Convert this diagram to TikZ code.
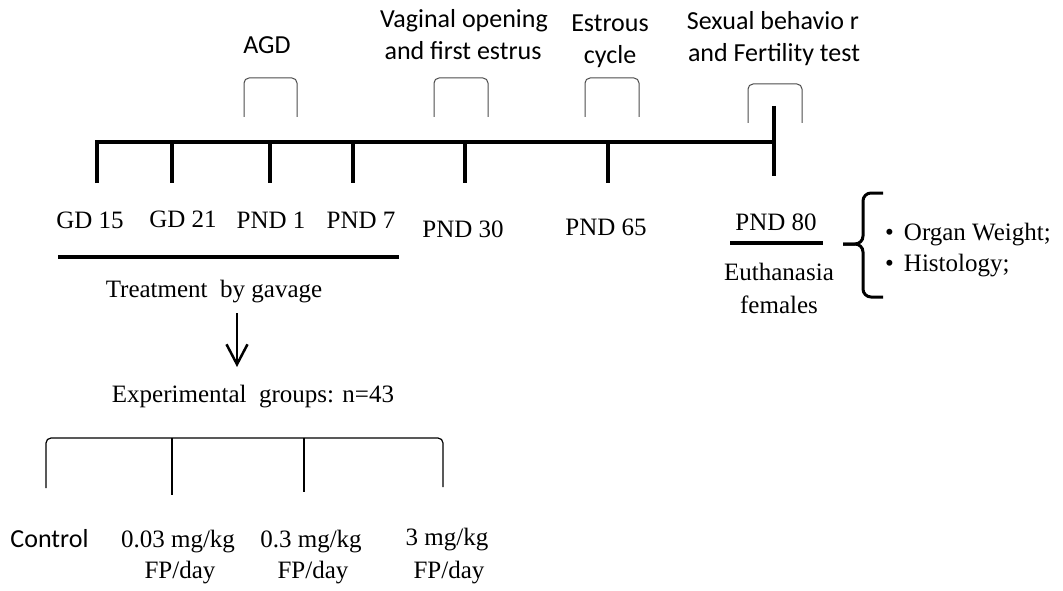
\documentclass[tikz,border=0pt]{standalone}
\usepackage{fontspec}
\setmainfont{Liberation Serif}
\newfontfamily\calibri{Carlito}
\usepackage{tikz}
\usetikzlibrary{arrows.meta}

\tikzset{
	lbl/.style={anchor=base,inner sep=0pt,font=\fontsize{25}{30}\selectfont},
	slbl/.style={anchor=base,inner sep=0pt,font=\calibri\fontsize{26}{31}\selectfont},
	brk/.style={line width=1pt,rounded corners=5pt,black!70},
	bar/.style={line width=4pt},
	arr/.style={line width=2.5pt,-{Straight Barb[length=20pt,width=21pt]}},
}

\begin{document}
\begin{tikzpicture}[x=1pt,y=-1pt]
	\useasboundingbox (0,0) rectangle (1063,591);
	% time line
	\draw[bar] (97,183) -- (97,142) -- (774,142);
	\draw[bar] (774,106) -- (774,176);
	\foreach \x in {172,270,353,465,608}{
		\draw[bar] (\x,142) -- (\x,183);
	}
	\foreach \x/\y/\t [count=\i] in {90/228/GD 15,183/227/GD 21,271/228/PND 1,361/228/PND 7,463/237/PND 30,606/235/PND 65,776/230/PND 80}{
		\node[lbl] (day\i) at (\x,\y) {\t};
	}
	
	% tests above the line
	\foreach \a/\b/\t/\d in {244/297/78/117,434/488/78/117,585/639/78/117,748/802/84/123}{
		\draw[brk] (\a,\d) -- (\a,\t) -- (\b,\t) -- (\b,\d);
	}
	\node[slbl] (agd) at (267,54) {AGD};
	\node[slbl] (vag) at (464,28) {Vaginal opening};
	\node[slbl] (vag2) at (463,60) {and first estrus};
	\node[slbl] (estr) at (610,32) {Estrous};
	\node[slbl] (estr2) at (610,64) {cycle};
	\node[slbl] (sex) at (773,30) {Sexual behavio r};
	\node[slbl] (sex2) at (774,62) {and Fertility test};
	
	% euthanasia
	\draw[bar] (730,243) -- (823,243);
	\node[lbl] (euth) at (779,280) {Euthanasia};
	\node[lbl] (euth2) at (779,313) {females};
	\draw[line width=3pt,rounded corners=8pt] (883,193) -- (863,193) -- (863,244) -- (843,244);
	\draw[line width=3pt,rounded corners=8pt] (843,244) -- (863,244) -- (863,297) -- (883,297);
	\node[lbl,anchor=base west] (organ) at (885,240) {\textbullet\hspace{10pt}Organ Weight;};
	\node[lbl,anchor=base west] (histo) at (885,271) {\textbullet\hspace{10pt}Histology;};
	
	% treatment and groups
	\draw[bar] (58,257) -- (399,257);
	\node[lbl] (treat) at (214,297) {Treatment\ \ by gavage};
	\coordinate (arrtop) at (237,313);
	\coordinate (arrtip) at (237,367);
	\draw[arr] (arrtop) -- (arrtip);
	\node[lbl] (exper) at (253,402) {Experimental\ \ groups: n=43};
	\draw[brk,black,line width=1.2pt] (46,488) -- (46,438) -- (443,438) -- (443,487);
	\foreach \x/\e in {172/495,304/492}{
		\draw[line width=2pt] (\x,438) -- (\x,\e);
	}
	\node[slbl] (ctrl) at (49.5,547) {Control};
	\foreach \x/\y/\t [count=\i] in {178/547/0.03,311/547/0.3,447/545/3}{
		\node[lbl] (dose\i) at (\x,\y) {\t{} mg/kg};
		\node[lbl] (fp\i) at (\x+2,578) {FP/day};
	}
\end{tikzpicture}
\end{document}
